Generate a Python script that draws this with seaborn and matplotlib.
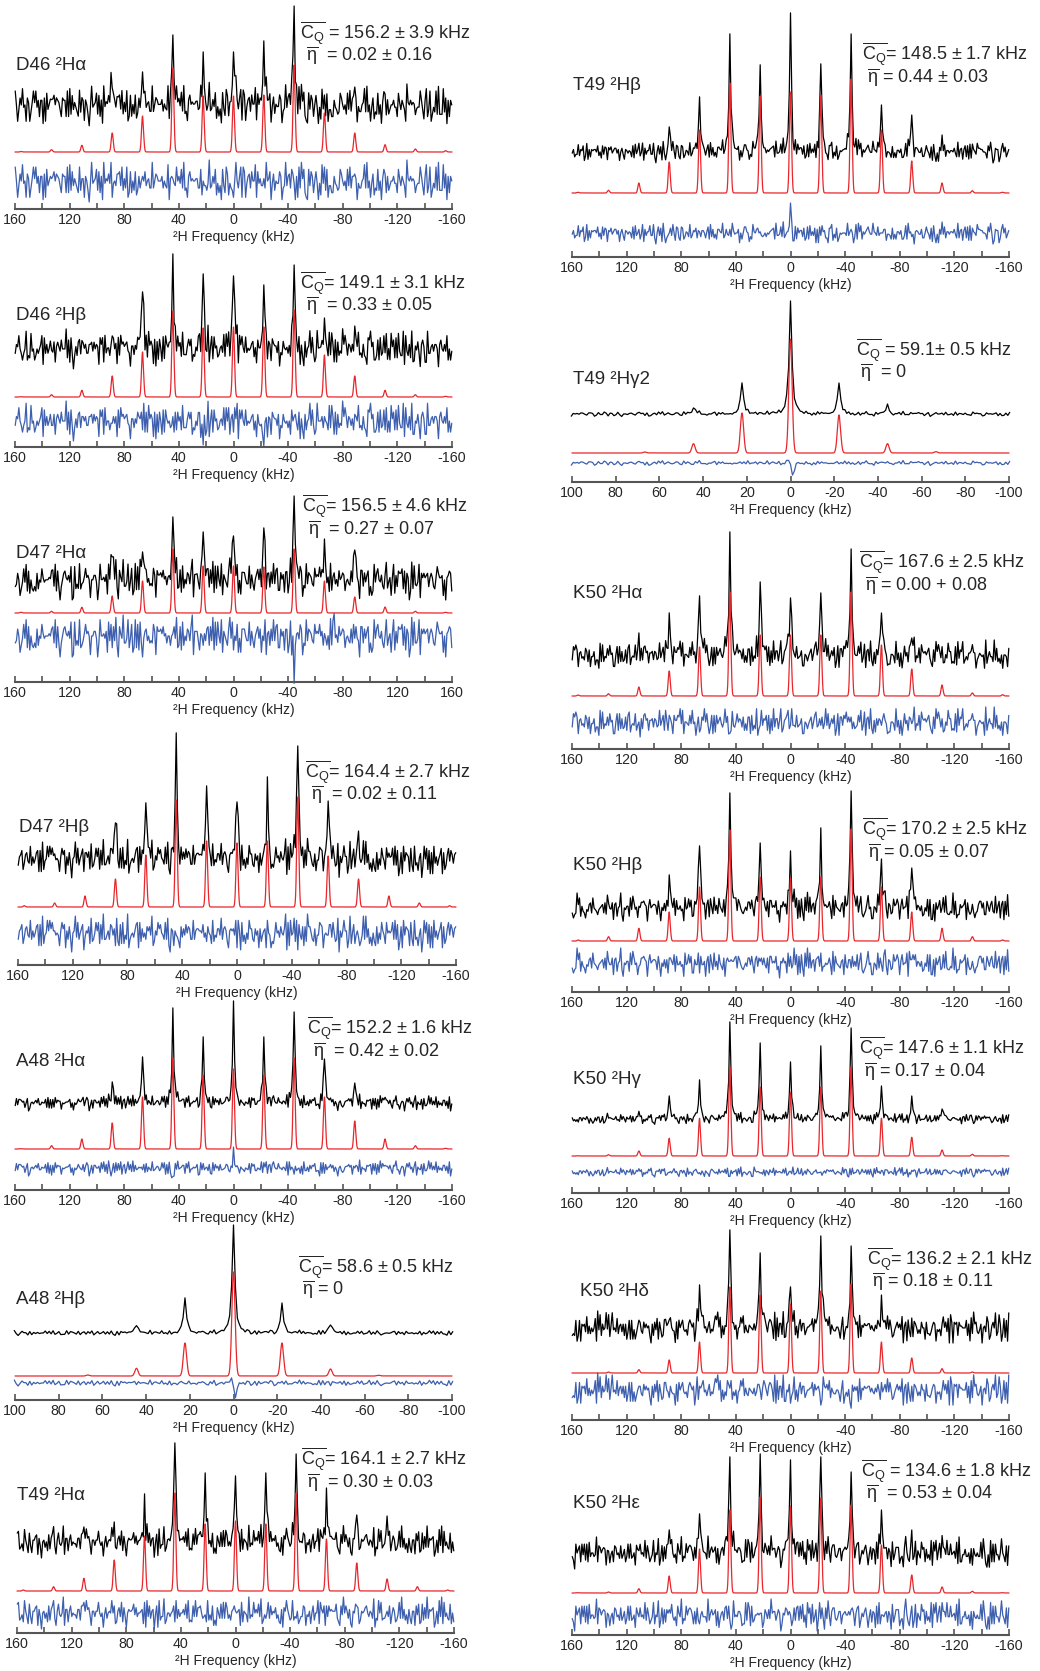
import numpy as np
import matplotlib
matplotlib.use("Agg")
import matplotlib.pyplot as plt
import seaborn as sns

sns.set_style("white")
plt.rcParams['font.family'] = ['Liberation Sans', 'DejaVu Sans']
plt.rcParams['mathtext.fontset'] = 'custom'
plt.rcParams['mathtext.rm'] = 'Liberation Sans'
plt.rcParams['mathtext.it'] = 'Liberation Sans:italic'
plt.rcParams['mathtext.bf'] = 'Liberation Sans:bold'
plt.rcParams['axes.unicode_minus'] = False

# ---------------- data ----------------
# spinning-sideband frequencies (kHz)
FREQ_WIDE = [155.4, 133.2, 111.0, 88.8, 66.6, 44.4, 22.2, 0.0,
             -22.2, -44.4, -66.6, -88.8, -111.0, -133.2, -155.4]
FREQ_NARROW = [88.8, 66.6, 44.4, 22.2, 0.0, -22.2, -44.4, -66.6, -88.8]

TICKS_WIDE = [160, 120, 80, 40, 0, -40, -80, -120, -160]
MINOR_WIDE = [140, 100, 60, 20, -20, -60, -100, -140]
TICK_LABELS_WIDE = ["160", "120", "80", "40", "0", "-40", "-80", "-120", "-160"]
TICK_LABELS_D47A = ["160", "120", "80", "40", "0", "-40", "-80", "120", "160"]
TICKS_NARROW = [100, 80, 60, 40, 20, 0, -20, -40, -60, -80, -100]
TICK_LABELS_NARROW = ["100", "80", "60", "40", "20", "0", "-20", "-40", "-60", "-80", "-100"]

# simulated (red) and experimental (black) sideband intensities
D46_HA_SIM = [0.5, 2.3, 6.7, 19, 36, 84, 56, 56, 57, 87, 39, 19, 7.3, 3, 1.3]
D46_HA_EXP = [0, 3, 5, 17, 33, 70, 53, 53, 64, 99, 10, 18, 4, 2, 0]
D46_HB_SIM = [0.3, 2.3, 6.7, 21, 45, 86, 69, 70, 70, 87, 42, 21, 6.7, 2.3, 0.7]
D46_HB_EXP = [0, 3, 4, 13, 57, 95, 75, 73, 64, 84, 31, 23, 5, 3, 0]
D47_HA_SIM = [0.7, 1.7, 5.7, 17, 32, 64, 47, 47, 46, 64, 32, 16, 6, 1.7, 0.7]
D47_HA_EXP = [0, 3, 5, 23, 28, 63, 48, 44, 52, 84, 41, 30, 5, 2, 0]
D47_HB_SIM = [1.3, 4, 11, 28, 52, 107, 66, 64, 66, 110, 51, 28, 11, 4, 1.3]
D47_HB_EXP = [0, 3, 6, 36, 56, 126, 73, 57, 82, 113, 58, 28, 6, 3, 0]
A48_HA_SIM = [0.3, 3.3, 10, 26, 52, 91, 74, 80, 74, 91, 52, 28, 10, 3.3, 0.7]
A48_HA_EXP = [0, 2, 5, 21, 46, 95, 66, 102, 66, 91, 44, 20, 3, 1, 0]
A48_HB_SIM = [0, 1, 7.7, 33, 104, 33, 7, 0.7, 0]
A48_HB_EXP = [0, 0.5, 7.3, 35, 108, 30, 8, 0.5, 0]
T49_HA_SIM = [1, 4.3, 12.7, 31, 55, 98, 67, 70, 67, 98, 52, 28, 12, 4.3, 1]
T49_HA_EXP = [0, 3, 15, 20, 48, 99, 69, 66, 69, 88, 54, 27, 26, 3, 0]
T49_HB_SIM = [0.7, 2.7, 10, 31, 63, 110, 97, 101, 98, 114, 63, 32, 10, 2.3, 0.7]
T49_HB_EXP = [0, 2, 5, 25, 55, 118, 87, 139, 88, 118, 47, 37, 17, 3, 0]
T49_HG2_SIM = [0, 1, 9.3, 40, 114, 38, 9.3, 1.3, 0]
T49_HG2_EXP = [0, 0.5, 6, 31, 113, 31, 10, 0.5, 0]
K50_HA_SIM = [1, 2.3, 9, 25, 49, 104, 61, 61, 61, 104, 51, 27, 11, 3, 1.3]
K50_HA_EXP = [0, 3, 22, 42, 59, 123, 73, 57, 62, 106, 42, 17, 5, 2, 0]
K50_HB_SIM = [1, 4.3, 12.7, 29, 54, 111, 64, 63, 64, 112, 54, 29, 12.7, 4.3, 1]
K50_HB_EXP = [0, 3, 5, 33, 62, 115, 65, 57, 80, 117, 49, 40, 5, 2, 0]
K50_HG_SIM = [0.3, 1.3, 5, 17.7, 37.7, 89, 69, 64, 69, 89, 37.7, 18.7, 6, 1.7, 0.3]
K50_HG_EXP = [0, 2, 4, 23, 39, 97, 76, 57, 73, 91, 33, 23, 10, 2, 0]
K50_HD_SIM = [0, 1, 3.3, 13, 31, 86, 78, 69, 82, 89, 31, 15, 4.3, 1, 0]
K50_HD_EXP = [0, 2, 4, 8, 43, 98, 75, 41, 92, 82, 33, 10, 4, 2, 0]
K50_HE_SIM = [0.3, 1, 4.3, 17, 44, 83, 96, 87, 95, 88, 48, 18, 6, 1.7, 0.3]
K50_HE_EXP = [0, 2, 4, 23, 39, 96, 99, 93, 96, 81, 43, 23, 5, 2, 0]

# residual spikes (kHz, intensity) seen in the blue traces
D46_HB_RES = [(22.2, -15), (-22.2, -16)]
D47_HA_RES = [(-44.4, -45), (-73.3, 28)]
A48_HA_RES = [(44.4, -13), (0.0, 20)]
A48_HB_RES = [(-0.8, -16), (0.8, 5)]
T49_HB_RES = [(0.0, 30)]
T49_HG2_RES = [(-1.2, -18), (0.8, 5)]
K50_HA_RES = [(44.4, -18)]
K50_HD_RES = [(-44.4, -22)]
NO_RES = []

# noise level (black, blue)
NOISE_LEVEL = [(21, 21), (20, 20), (20, 21), (19, 19), (8, 8), (2.5, 3), (16, 16),
               (11, 11), (2.5, 2.5), (15, 15), (15, 15), (5.5, 5), (17, 17), (16, 16)]

# hand-written noise pattern
NOISE_DIGITS = (
    "3846190725283941506618734295073164825901736452819370462581093746158203947615280394716582039471562830"
    "5719264803174925836021748592306471825936084127593064182573904186273590147286359024182763590518273650"
    "9127483650293471850638291746508271936045173648295036182740952739164085317294605819472638052649173850"
    "4072935816093827461583027461957382916045283917560471938264058371946250361829405718463927504938172605"
    "6283740195720493816529473810653719482056192837460582739461503928174650283749106573918240561928374065"
    "1839274650491827360527483910568391724605173829460529473816053829174065493817206528374916503928471605"
    "7052918364810273965420837159463092184756301728469553917204650382971465039821746573028174650392187465"
    "2960471835063819274508173625940381729560472816395054938271600493827516209381746520938471652098347165"
)

LABELS = ["D46 ²Hα", "D46 ²Hβ", "D47 ²Hα", "D47 ²Hβ", "A48 ²Hα", "A48 ²Hβ", "T49 ²Hα",
          "T49 ²Hβ", "T49 ²Hγ2", "K50 ²Hα", "K50 ²Hβ", "K50 ²Hγ", "K50 ²Hδ", "K50 ²Hε"]
CQ_VALUES = [" = 156.2 ± 3.9 kHz", "= 149.1 ± 3.1 kHz", "= 156.5 ± 4.6 kHz", "= 164.4 ± 2.7 kHz",
             "= 152.2 ± 1.6 kHz", "= 58.6 ± 0.5 kHz", "= 164.1 ± 2.7 kHz", "= 148.5 ± 1.7 kHz",
             " = 59.1± 0.5 kHz", "= 167.6 ± 2.5 kHz", "= 170.2 ± 2.5 kHz", "= 147.6 ± 1.1 kHz",
             "= 136.2 ± 2.1 kHz", " = 134.6 ± 1.8 kHz"]
ETA_VALUES = ["  = 0.02 ± 0.16", "  = 0.33 ± 0.05", "  = 0.27 ± 0.07", "  = 0.02 ± 0.11",
              "  = 0.42 ± 0.02", " = 0", "  = 0.30 ± 0.03", " = 0.44 ± 0.03", "  = 0",
              " = 0.00 + 0.08", " = 0.05 ± 0.07", " = 0.17 ± 0.04", " = 0.18 ± 0.11",
              "  = 0.53 ± 0.04"]

SIMS = [D46_HA_SIM, D46_HB_SIM, D47_HA_SIM, D47_HB_SIM, A48_HA_SIM, A48_HB_SIM, T49_HA_SIM,
        T49_HB_SIM, T49_HG2_SIM, K50_HA_SIM, K50_HB_SIM, K50_HG_SIM, K50_HD_SIM, K50_HE_SIM]
EXPS = [D46_HA_EXP, D46_HB_EXP, D47_HA_EXP, D47_HB_EXP, A48_HA_EXP, A48_HB_EXP, T49_HA_EXP,
        T49_HB_EXP, T49_HG2_EXP, K50_HA_EXP, K50_HB_EXP, K50_HG_EXP, K50_HD_EXP, K50_HE_EXP]
RESS = [NO_RES, D46_HB_RES, D47_HA_RES, NO_RES, A48_HA_RES, A48_HB_RES, NO_RES,
        T49_HB_RES, T49_HG2_RES, K50_HA_RES, NO_RES, NO_RES, K50_HD_RES, NO_RES]
XMAX = [160, 160, 160, 160, 160, 100, 160, 160, 100, 160, 160, 160, 160, 160]

# ---------------- layout (pixels) ----------------
# axis_y, left, right, black_y, red_y, blue_y, lab_x, lab_y, cq_x, cq_y, eta_x, eta_y
LAYOUT = [
    (209, 15, 452, 105, 152, 181, 16, 65, 300, 33, 306, 55),
    (447, 15, 452, 349, 397, 421, 16, 315, 300, 283, 306, 305),
    (682, 15, 452, 580, 613, 636, 16, 553, 302, 506, 308, 529),
    (965, 18, 456, 859, 907, 933, 19, 827, 305, 772, 311, 794),
    (1190, 15, 452, 1103, 1149, 1168, 16, 1061, 307, 1028, 313, 1051),
    (1400, 15, 452, 1333, 1376, 1383, 16, 1299, 298, 1267, 302, 1289),
    (1633, 17, 454, 1542, 1591, 1613, 17, 1495, 301, 1459, 307, 1482),
    (257, 572, 1009, 152, 193, 233, 573, 86, 862, 54, 867, 77),
    (482, 572, 1009, 414, 453, 463, 573, 380, 856, 350, 860, 372),
    (749, 572, 1009, 655, 696, 722, 573, 593, 859, 562, 865, 585),
    (992, 572, 1009, 908, 941, 963, 573, 866, 862, 829, 868, 852),
    (1193, 572, 1009, 1119, 1156, 1172, 573, 1080, 859, 1048, 864, 1071),
    (1420, 572, 1009, 1328, 1373, 1390, 580, 1291, 867, 1259, 872, 1281),
    (1635, 572, 1009, 1553, 1593, 1615, 573, 1504, 861, 1471, 866, 1493),
]

W, H = 1040, 1671
STEP = 0.888
SIG = 0.75
HWHM = 0.75
AXH = 180
BLACK = "#000000"
RED = "#e8262b"
BLUE = "#3d5fae"
AXCOL = "#555555"

NOISE = (np.array([int(c) for c in NOISE_DIGITS]) - 4.5) / 4.5

fig = plt.figure(figsize=(W / 100, H / 100), dpi=100)


def lor(x, x0, w):
    return 1.0 / (1.0 + ((x - x0) / w) ** 2)


for i, lay in enumerate(LAYOUT):
    ay, L, R, by, ry, bly, lx, ly, cx, cy, ex, ey = lay
    xm = XMAX[i]
    freqs = FREQ_WIDE if xm == 160 else FREQ_NARROW
    sim, exp_, res = SIMS[i], EXPS[i], RESS[i]
    nb, nbl = NOISE_LEVEL[i]

    ax = fig.add_axes([L / W, 1 - ay / H, (R - L) / W, AXH / H])
    ax.patch.set_alpha(0)

    n = int(round(xm / STEP))
    xg = np.arange(-n, n + 1) * STEP
    k = np.arange(len(xg))
    noise = 0.5 * (NOISE[(i * 57 + k) % len(NOISE)] + NOISE[(i * 31 + 400 + 3 * k) % len(NOISE)])

    # experimental trace
    blk = noise * nb
    for f, h in zip(freqs, exp_):
        kk = int(np.argmin(np.abs(xg - f)))
        corr = blk[kk] if h > 5 else 0.0
        blk = blk + (h - corr) * lor(xg, xg[kk], HWHM)
    blk = blk + (ay - by)

    # simulated trace
    xf = np.linspace(-xm, xm, 3201)
    red = np.zeros_like(xf)
    for f, h in zip(freqs, sim):
        red += h * np.exp(-0.5 * ((xf - f) / SIG) ** 2)
    red = red + (ay - ry)

    # residual trace
    blu = noise * nbl
    for f, h in res:
        blu = blu + h * lor(xg, f, 0.45)
    blu = blu + (ay - bly)

    sns.lineplot(x=xg, y=blk, ax=ax, color=BLACK, linewidth=0.9, estimator=None, sort=False)
    sns.lineplot(x=xf, y=red, ax=ax, color=RED, linewidth=0.9, estimator=None, sort=False)
    sns.lineplot(x=xg, y=blu, ax=ax, color=BLUE, linewidth=0.9, estimator=None, sort=False)
    for ln in ax.lines:
        ln.set_clip_on(False)

    ax.set_xlim(xm, -xm)
    ax.set_ylim(0, AXH)
    for s in ["left", "top", "right"]:
        ax.spines[s].set_visible(False)
    ax.spines["bottom"].set_color(AXCOL)
    ax.spines["bottom"].set_linewidth(1.5)
    ax.set_yticks([])
    ax.set_ylabel("")
    if xm == 160:
        ax.set_xticks(TICKS_WIDE)
        ax.set_xticklabels(TICK_LABELS_D47A if i == 2 else TICK_LABELS_WIDE)
        ax.set_xticks(MINOR_WIDE, minor=True)
    else:
        ax.set_xticks(TICKS_NARROW)
        ax.set_xticklabels(TICK_LABELS_NARROW)
    ax.tick_params(axis="x", which="both", direction="in", length=4.5, width=1.2,
                   color=AXCOL, pad=3.0, labelsize=10.3, bottom=True)
    ax.set_xlabel("²H Frequency (kHz)", fontsize=10, labelpad=2.0)

    fig.text(lx / W, 1 - ly / H, LABELS[i], fontsize=13.5, ha="left", va="center")
    fig.text(cx / W, 1 - cy / H, r"$\overline{\mathrm{C}_{\mathrm{Q}}}$" + CQ_VALUES[i],
             fontsize=13, ha="left", va="center")
    fig.text(ex / W, 1 - ey / H, r"$\overline{\mathrm{η}}$" + ETA_VALUES[i],
             fontsize=13, ha="left", va="center")

fig.savefig("out.png", dpi=100)
